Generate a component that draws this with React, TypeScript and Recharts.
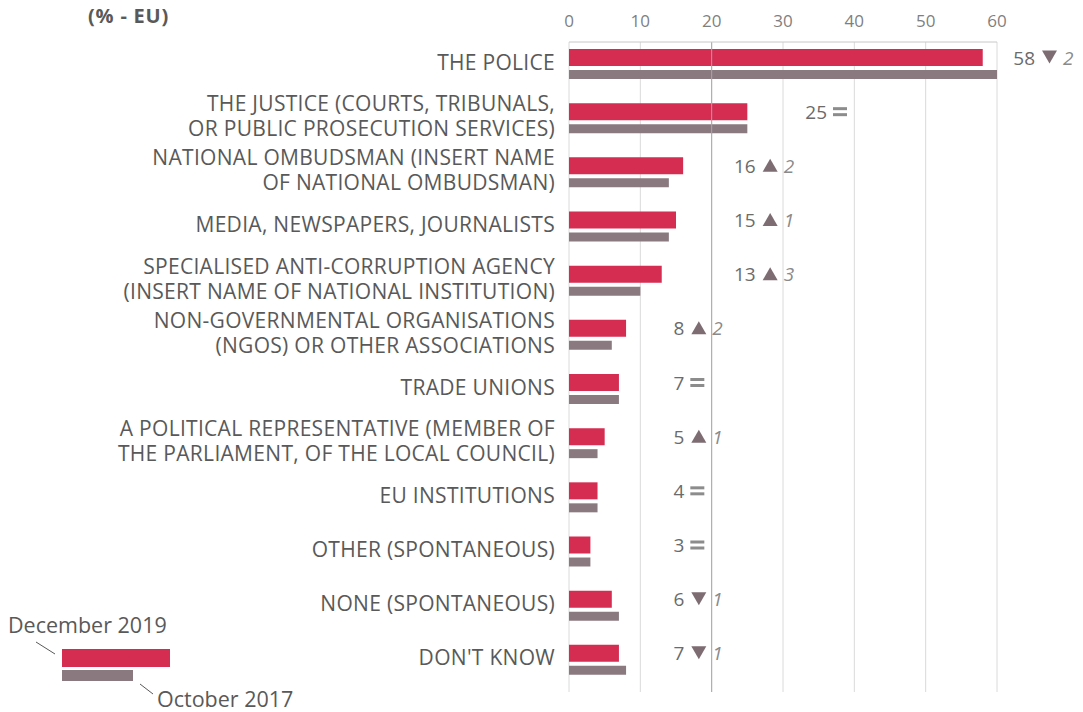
import { Bar, BarChart, CartesianGrid, LabelList, ReferenceLine, XAxis, YAxis } from "recharts";

const categories = [
  "THE POLICE",
  "THE JUSTICE (COURTS, TRIBUNALS,\nOR PUBLIC PROSECUTION SERVICES)",
  "NATIONAL OMBUDSMAN (INSERT NAME\nOF NATIONAL OMBUDSMAN)",
  "MEDIA, NEWSPAPERS, JOURNALISTS",
  "SPECIALISED ANTI-CORRUPTION AGENCY\n(INSERT NAME OF NATIONAL INSTITUTION)",
  "NON-GOVERNMENTAL ORGANISATIONS\n(NGOS) OR OTHER ASSOCIATIONS",
  "TRADE UNIONS",
  "A POLITICAL REPRESENTATIVE (MEMBER OF\nTHE PARLIAMENT, OF THE LOCAL COUNCIL)",
  "EU INSTITUTIONS",
  "OTHER (SPONTANEOUS)",
  "NONE (SPONTANEOUS)",
  "DON'T KNOW",
];
const dec2019 = [58, 25, 16, 15, 13, 8, 7, 5, 4, 3, 6, 7];
const oct2017 = [60, 25, 14, 14, 10, 6, 7, 4, 4, 3, 7, 8];
const xTicks = [0, 10, 20, 30, 40, 50, 60];

const data = categories.map((name, i) => ({ name, dec2019: dec2019[i], oct2017: oct2017[i] }));

const RED = "#d52c51";
const GREY = "#8a7a80";
const TEXT = "#595959";
const FONT = "'Open Sans', sans-serif";

function CategoryTick({ x, y, payload }: any) {
  const lines = String(payload.value).split("\n");
  const lh = 25;
  const top = y - 2.5 - ((lines.length - 1) * lh) / 2;
  return (
    <text x={x} y={top} textAnchor="end" fill={TEXT} fontSize={21} letterSpacing={0.3} fontFamily={FONT} dominantBaseline="central">
      {lines.map((l, i) => (
        <tspan key={i} x={x} y={top + i * lh}>{l}</tspan>
      ))}
    </text>
  );
}

function Annotation(props: any) {
  const { x, y, width, height, index } = props;
  const v = dec2019[index];
  const diff = v - oct2017[index];
  const perUnit = width / v;
  // keep the last group inside the visible area
  const numEnd = Math.min(x + perUnit * Math.ceil(v / 10) * 10 + 44, 1027);
  const cy = y + height / 2;
  const tx = numEnd + 7;
  return (
    <g fontFamily={FONT}>
      <text x={numEnd} y={cy} textAnchor="end" dominantBaseline="central" fontSize={19} fill="#6b6b6b">{v}</text>
      {diff === 0 ? (
        <g fill="#8c8c8c">
          <rect x={numEnd + 6} y={cy - 4.5} width={14} height={3} />
          <rect x={numEnd + 6} y={cy + 1.5} width={14} height={3} />
        </g>
      ) : (
        <>
          <polygon
            fill="#7d6d73"
            points={
              diff > 0
                ? `${tx},${cy + 6} ${tx + 15},${cy + 6} ${tx + 7.5},${cy - 7}`
                : `${tx},${cy - 7} ${tx + 15},${cy - 7} ${tx + 7.5},${cy + 6}`
            }
          />
          <text x={tx + 21} y={cy} dominantBaseline="central" fontSize={19} fontStyle="italic" fill="#8a8a8a">{Math.abs(diff)}</text>
        </>
      )}
    </g>
  );
}

export default function App() {
  return (
    <div style={{ position: "relative", width: 1075, height: 704, fontFamily: FONT }}>
      <style>{`html, body { overflow: hidden; } #root { width: 1075px; height: 704px; }`}</style>
      <BarChart
        layout="vertical"
        width={1075}
        height={704}
        data={data}
        margin={{ top: 0, right: 86, bottom: 20, left: 0 }}
        barGap={4}
      >
        <CartesianGrid horizontal={false} stroke="#dadada" />
        <ReferenceLine x={20} stroke="#a8a8a8" />
        <XAxis
          type="number"
          orientation="top"
          domain={[0, 60]}
          ticks={xTicks}
          height={34}
          tickLine={false}
          tickSize={0}
          tickMargin={15}
          axisLine={{ stroke: "#c8c8c8" }}
          tick={{ fill: "#7f7f7f", fontSize: 17, fontFamily: FONT }}
        />
        <YAxis
          type="category"
          dataKey="name"
          width={561}
          axisLine={false}
          tickLine={false}
          tickSize={0}
          tickMargin={14}
          padding={{ top: -5, bottom: 5 }}
          tick={<CategoryTick />}
          interval={0}
        />
        <Bar dataKey="dec2019" fill={RED} barSize={17} isAnimationActive={false}>
          <LabelList dataKey="dec2019" content={<Annotation />} />
        </Bar>
        <Bar dataKey="oct2017" fill={GREY} barSize={9} isAnimationActive={false} />
      </BarChart>
      <svg width={1075} height={704} style={{ position: "absolute", left: 0, top: 0, pointerEvents: "none", overflow: "visible" }}>
        <text x={80} y={15} fontSize={20} letterSpacing={0.8} fontWeight="bold" fill={TEXT} fontFamily={FONT}>(% - EU)</text>
        <text x={0} y={625} fontSize={21.5} fill={TEXT} fontFamily={FONT}>December 2019</text>
        <line x1={28} y1={634} x2={47} y2={646} stroke={TEXT} strokeWidth={1} />
        <rect x={54} y={641} width={108} height={18} fill={RED} />
        <rect x={54} y={662} width={71} height={11} fill={GREY} />
        <line x1={132} y1={676} x2={145} y2={686} stroke={TEXT} strokeWidth={1} />
        <text x={149} y={699} fontSize={21.5} fill={TEXT} fontFamily={FONT}>October 2017</text>
      </svg>
    </div>
  );
}
